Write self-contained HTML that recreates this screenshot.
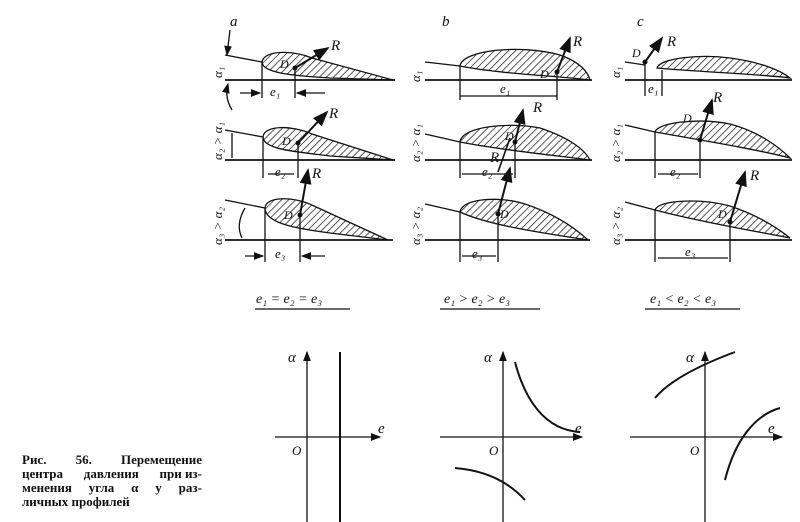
<!DOCTYPE html>
<html><head><meta charset="utf-8"><style>
body{margin:0;background:#fff;width:800px;height:522px;overflow:hidden}
svg{position:absolute;left:0;top:0}
text{font-family:"Liberation Serif",serif;font-style:italic;fill:#111}
.cap{position:absolute;left:22px;top:453px;font-family:"Liberation Serif",serif;font-weight:bold;font-size:13px;line-height:14px;color:#111;width:180px}
.cap div{text-align:justify;text-align-last:justify;white-space:nowrap;display:flex;justify-content:space-between}
</style></head><body>
<svg width="800" height="522" viewBox="0 0 800 522">
<defs>
<pattern id="h" width="5" height="5" patternUnits="userSpaceOnUse" patternTransform="rotate(45)">
<line x1="0" y1="0" x2="0" y2="5" stroke="#111" stroke-width="1.4"/></pattern>
<marker id="ar" markerWidth="8" markerHeight="8" refX="7" refY="4" orient="auto"><path d="M0,1 L8,4 L0,7z" fill="#111"/></marker>
</defs>
<g stroke="#111" stroke-width="1.3" fill="none">
<line x1="225" y1="80" x2="395" y2="80" stroke-width="1.8"/>
<line x1="225" y1="55" x2="262" y2="62"/>
<path d="M262,62 C264,50 292,50 312,58 L393,80 L330,78 C300,76 262,74 262,62z" fill="url(#h)"/>
<line x1="262" y1="62" x2="262" y2="98"/><line x1="295" y1="68" x2="295" y2="98"/>
<line x1="240" y1="93" x2="260" y2="93" marker-end="url(#ar)"/><line x1="325" y1="93" x2="297" y2="93" marker-end="url(#ar)"/>
<line x1="295" y1="68" x2="328" y2="48" stroke-width="2" marker-end="url(#ar)"/>
<line x1="230" y1="30" x2="227" y2="55" marker-end="url(#ar)"/>
<path d="M232,110 C226,100 226,92 228,84" marker-end="url(#ar)"/>
<line x1="225" y1="160" x2="395" y2="160" stroke-width="1.8"/>
<line x1="225" y1="130" x2="263" y2="137"/>
<path d="M263,137 C264,125 292,125 312,134 L393,160 L330,156 C300,152 263,150 263,137z" fill="url(#h)"/>
<line x1="263" y1="137" x2="263" y2="178"/><line x1="298" y1="143" x2="298" y2="178"/>
<line x1="268" y1="174" x2="294" y2="174"/><line x1="298" y1="143" x2="327" y2="112" stroke-width="2" marker-end="url(#ar)"/>
<line x1="232" y1="133" x2="232" y2="158"/>
<line x1="225" y1="240" x2="393" y2="240" stroke-width="1.8"/>
<line x1="225" y1="200" x2="265" y2="208"/>
<path d="M265,208 C266,196 294,196 314,206 L388,240 L330,233 C300,229 265,224 265,208z" fill="url(#h)"/>
<line x1="265" y1="208" x2="265" y2="262"/><line x1="300" y1="215" x2="300" y2="262"/>
<line x1="245" y1="256" x2="263" y2="256" marker-end="url(#ar)"/><line x1="325" y1="256" x2="302" y2="256" marker-end="url(#ar)"/>
<line x1="300" y1="215" x2="308" y2="170" stroke-width="2" marker-end="url(#ar)"/>
<path d="M245,208 C238,220 238,230 242,238"/>
<line x1="425" y1="80" x2="592" y2="80" stroke-width="1.8"/>
<line x1="425" y1="62" x2="460" y2="66"/>
<path d="M460,66 C462,50 520,44 560,55 C580,62 588,72 590,80 C560,76 500,74 460,66z" fill="url(#h)"/>
<line x1="460" y1="66" x2="460" y2="100"/><line x1="557" y1="72" x2="557" y2="100"/>
<line x1="460" y1="96" x2="557" y2="96"/><line x1="557" y1="72" x2="570" y2="38" stroke-width="2" marker-end="url(#ar)"/>
<line x1="425" y1="160" x2="592" y2="160" stroke-width="1.8"/>
<line x1="425" y1="134" x2="460" y2="142"/>
<path d="M460,142 C462,126 510,122 540,128 C570,138 585,150 590,160 C560,156 500,150 460,142z" fill="url(#h)"/>
<line x1="460" y1="142" x2="460" y2="178"/><line x1="515" y1="142" x2="515" y2="178"/>
<line x1="462" y1="174" x2="513" y2="174"/><line x1="515" y1="142" x2="523" y2="110" stroke-width="2" marker-end="url(#ar)"/>
<line x1="510" y1="138" x2="498" y2="172" stroke-width="1.6"/>
<line x1="425" y1="240" x2="590" y2="240" stroke-width="1.8"/>
<line x1="425" y1="204" x2="460" y2="212"/>
<path d="M460,212 C462,198 500,196 525,204 C555,214 575,228 588,240 C550,234 490,226 460,212z" fill="url(#h)"/>
<line x1="460" y1="212" x2="460" y2="262"/><line x1="498" y1="214" x2="498" y2="262"/>
<line x1="462" y1="256" x2="496" y2="256"/><line x1="498" y1="214" x2="510" y2="168" stroke-width="2" marker-end="url(#ar)"/>
<line x1="625" y1="80" x2="792" y2="80" stroke-width="1.8"/>
<line x1="625" y1="62" x2="645" y2="65"/>
<path d="M657,68 C660,58 700,54 730,58 C760,62 780,70 790,78 C760,74 700,72 657,68z" fill="url(#h)"/>
<line x1="645" y1="62" x2="645" y2="96"/><line x1="662" y1="70" x2="662" y2="96"/>
<line x1="645" y1="62" x2="662" y2="38" stroke-width="2" marker-end="url(#ar)"/>
<line x1="625" y1="160" x2="792" y2="160" stroke-width="1.8"/>
<line x1="625" y1="125" x2="655" y2="132"/>
<path d="M655,132 C658,122 700,118 730,124 C760,132 780,148 790,158 C760,150 700,140 655,132z" fill="url(#h)"/>
<line x1="655" y1="132" x2="655" y2="178"/><line x1="700" y1="140" x2="700" y2="178"/>
<line x1="658" y1="174" x2="698" y2="174"/><line x1="700" y1="140" x2="712" y2="100" stroke-width="2" marker-end="url(#ar)"/>
<line x1="625" y1="240" x2="792" y2="240" stroke-width="1.8"/>
<line x1="625" y1="202" x2="655" y2="210"/>
<path d="M655,210 C658,200 700,198 730,206 C760,216 780,230 790,238 C760,232 700,222 655,210z" fill="url(#h)"/>
<line x1="655" y1="210" x2="655" y2="262"/><line x1="730" y1="222" x2="730" y2="262"/>
<line x1="658" y1="258" x2="728" y2="258"/><line x1="730" y1="222" x2="745" y2="172" stroke-width="2" marker-end="url(#ar)"/>
<line x1="255" y1="309" x2="350" y2="309"/><line x1="440" y1="309" x2="540" y2="309"/><line x1="645" y1="309" x2="740" y2="309"/>
<line x1="307" y1="522" x2="307" y2="352" marker-end="url(#ar)"/>
<line x1="275" y1="437" x2="380" y2="437" marker-end="url(#ar)"/>
<line x1="340" y1="352" x2="340" y2="522" stroke-width="2"/>
<line x1="503" y1="522" x2="503" y2="352" marker-end="url(#ar)"/>
<line x1="440" y1="437" x2="582" y2="437" marker-end="url(#ar)"/>
<path d="M515,362 C525,400 545,430 580,432" stroke-width="2"/>
<path d="M455,468 C480,470 505,478 525,500" stroke-width="2"/>
<line x1="705" y1="522" x2="705" y2="352" marker-end="url(#ar)"/>
<line x1="630" y1="437" x2="782" y2="437" marker-end="url(#ar)"/>
<path d="M655,398 C670,380 700,365 735,352" stroke-width="2"/>
<path d="M725,480 C735,440 755,415 780,408" stroke-width="2"/>
</g>
<g fill="#111"><circle cx="295" cy="68" r="2.5"/><circle cx="298" cy="143" r="2.5"/><circle cx="300" cy="215" r="2.5"/>
<circle cx="557" cy="72" r="2.5"/><circle cx="515" cy="142" r="2.5"/><circle cx="498" cy="214" r="2.5"/>
<circle cx="645" cy="62" r="2.5"/><circle cx="700" cy="140" r="2.5"/><circle cx="730" cy="222" r="2.5"/></g>
<g font-size="15">
<text x="230" y="26">a</text><text x="442" y="26">b</text><text x="637" y="26">c</text>
<text x="331" y="50">R</text><text x="573" y="46">R</text><text x="667" y="46">R</text>
<text x="329" y="118">R</text><text x="533" y="112">R</text><text x="713" y="102">R</text>
<text x="312" y="178">R</text><text x="490" y="162">R</text><text x="750" y="180">R</text>
<text x="280" y="68" font-size="12">D</text><text x="540" y="78" font-size="12">D</text><text x="632" y="57" font-size="12">D</text>
<text x="282" y="145" font-size="12">D</text><text x="505" y="140" font-size="12">D</text><text x="683" y="122" font-size="12">D</text>
<text x="284" y="219" font-size="12">D</text><text x="500" y="218" font-size="12">D</text><text x="718" y="218" font-size="12">D</text>
<text x="270" y="96" font-size="13">e₁</text><text x="275" y="176" font-size="13">e₂</text><text x="275" y="258" font-size="13">e₃</text>
<text x="500" y="93" font-size="13">e₁</text><text x="482" y="176" font-size="13">e₂</text><text x="472" y="258" font-size="13">e₃</text>
<text x="648" y="93" font-size="13">e₁</text><text x="670" y="176" font-size="13">e₂</text><text x="685" y="256" font-size="13">e₃</text>
<text x="256" y="303" font-size="14">e₁ = e₂ = e₃</text><text x="444" y="303" font-size="14">e₁ &gt; e₂ &gt; e₃</text><text x="650" y="303" font-size="14">e₁ &lt; e₂ &lt; e₃</text>
<text x="288" y="362">α</text><text x="484" y="362">α</text><text x="686" y="362">α</text>
<text x="378" y="433">e</text><text x="575" y="433">e</text><text x="768" y="433">e</text>
<text x="292" y="455" font-size="13">O</text><text x="489" y="455" font-size="13">O</text><text x="690" y="455" font-size="13">O</text>
</g>
<g font-size="13">
<text transform="translate(222,78) rotate(-90)">α₁</text>
<text transform="translate(222,160) rotate(-90)">α₂ &gt; α₁</text>
<text transform="translate(222,245) rotate(-90)">α₃ &gt; α₂</text>
<text transform="translate(420,82) rotate(-90)">α₁</text>
<text transform="translate(420,162) rotate(-90)">α₂ &gt; α₁</text>
<text transform="translate(420,245) rotate(-90)">α₃ &gt; α₂</text>
<text transform="translate(620,78) rotate(-90)">α₁</text>
<text transform="translate(620,162) rotate(-90)">α₂ &gt; α₁</text>
<text transform="translate(620,245) rotate(-90)">α₃ &gt; α₂</text>
</g>
</svg>
<div class="cap">
<div><span>Рис.</span><span>56.</span><span>Перемещение</span></div>
<div><span>центра</span><span>давления</span><span>при из-</span></div>
<div><span>менения</span><span>угла</span><span>α</span><span>у</span><span>раз-</span></div>
<div><span>личных профилей</span></div>
</div>
</body></html>
